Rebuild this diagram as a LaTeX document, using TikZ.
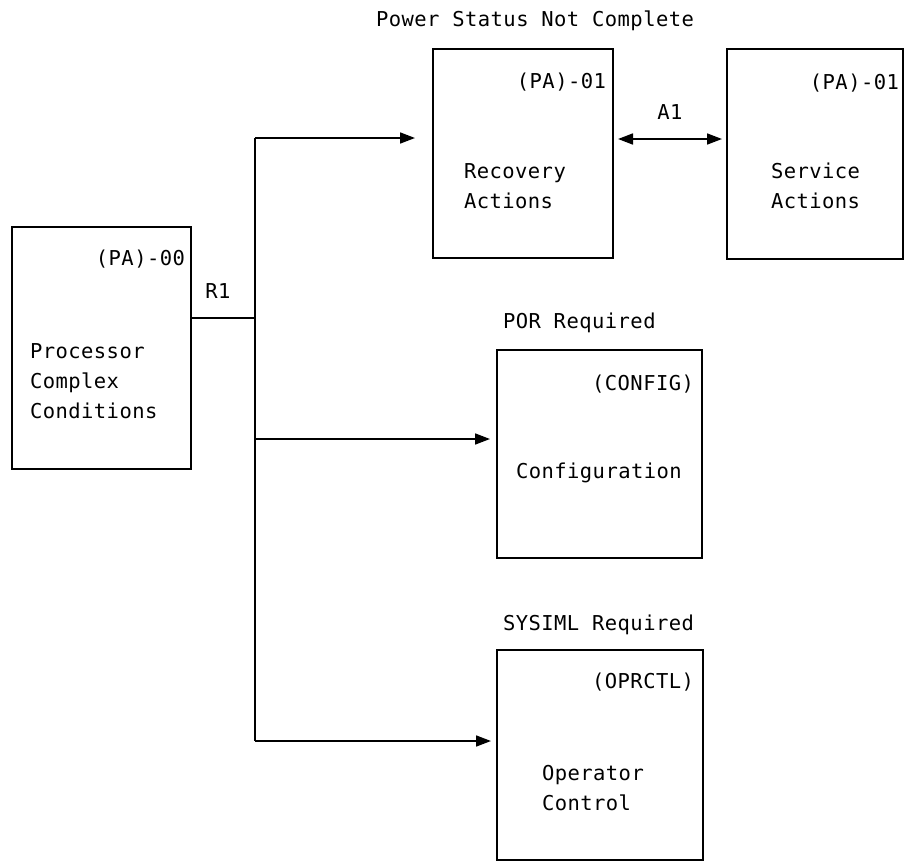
\documentclass[tikz,border=0pt]{standalone}
\usepackage{fontspec}
\usetikzlibrary{arrows.meta}
\newfontfamily\dmono[LetterSpace=2.2]{DejaVu Sans Mono}

\begin{document}
\begin{tikzpicture}[x=1pt, y=-1pt,
  every node/.style={inner sep=0pt, outer sep=0pt, font=\dmono\fontsize{20.5}{30}\selectfont},
  panel/.style={draw, line width=1.7pt, minimum width=#1},
  txt/.style={anchor=base west},
  tag/.style={anchor=base east},
  wire/.style={line width=1.7pt},
  arr/.style={wire, -{Triangle[length=15pt, width=11pt]}},
  dblarr/.style={wire, {Triangle[length=15pt, width=11pt]}-{Triangle[length=15pt, width=11pt]}}
]
\useasboundingbox (0,0) rectangle (905,862);

% boxes
\node[panel=179pt, minimum height=242pt] (pa00) at (101.5,348) {};
\node[panel=180pt, minimum height=209pt] (rec)  at (523,153.5) {};
\node[panel=176pt, minimum height=210pt] (svc)  at (815,154) {};
\node[panel=205pt, minimum height=208pt] (cfg)  at (599.5,454) {};
\node[panel=206pt, minimum height=210pt] (opr)  at (600,755) {};

% texts inside the boxes
\node[tag] (pa00id) at (185,265) {(PA)-00};
\node[txt] (pa00a) at (30,358) {Processor};
\node[txt] (pa00b) at (30,388) {Complex};
\node[txt] (pa00c) at (30,418) {Conditions};

\node[tag] (recid) at (606,88) {(PA)-01};
\node[txt] (reca) at (464,178) {Recovery};
\node[txt] (recb) at (464,208) {Actions};

\node[tag] (svcid) at (899,89) {(PA)-01};
\node[txt] (svca) at (771,178) {Service};
\node[txt] (svcb) at (771,208) {Actions};

\node[tag] (cfgid) at (694,390) {(CONFIG)};
\node[txt] (cfga) at (516,478) {Configuration};

\node[tag] (oprid) at (694,688) {(OPRCTL)};
\node[txt] (opra) at (542,780) {Operator};
\node[txt] (oprb) at (542,810) {Control};

% headings
\node[txt] (hpow) at (376,27) {Power Status Not Complete};
\node[txt] (hpor) at (503,328) {POR Required};
\node[txt] (hsys) at (503,630) {SYSIML Required};

% connector labels
\node[anchor=base] (lr1) at (218,298) {R1};
\node[anchor=base] (la1) at (670,119) {A1};

% connectors
\coordinate (j)   at (255,318);
\coordinate (jt)  at (255,138);
\coordinate (jc)  at (255,439);
\coordinate (jb)  at (255,741);

\draw[wire] (pa00.east |- j) -- (j);
\draw[wire] (jt) -- (jb);
\draw[arr, shorten >=18pt] (jt) -- (rec.west |- jt);
\draw[arr, shorten >=7pt] (jc) -- (cfg.west |- jc);
\draw[arr, shorten >=6pt] (jb) -- (opr.west |- jb);
\draw[dblarr, shorten <=5pt, shorten >=5pt] (rec.east |- 0,139) -- (svc.west |- 0,139);

\end{tikzpicture}
\end{document}
